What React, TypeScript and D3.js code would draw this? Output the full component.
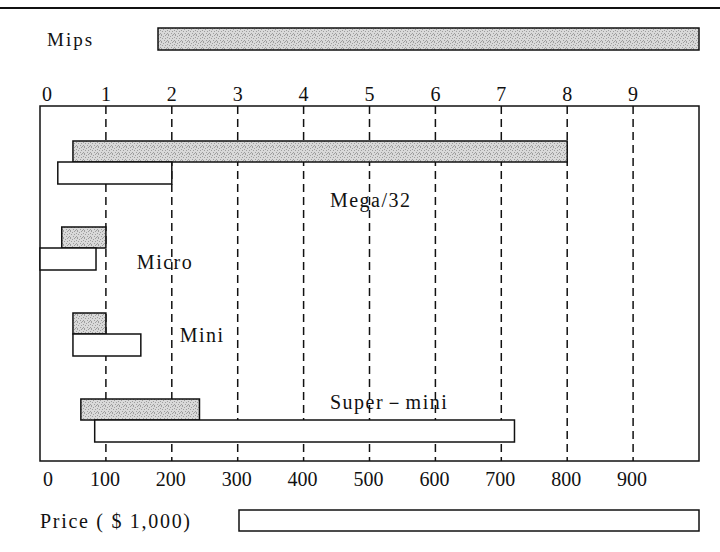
import { useEffect, useRef } from 'react';
import * as d3 from 'd3';

// Computer classes, with Mips range and price range ($1,000)
const categories = ['Mega/32', 'Micro', 'Mini', 'Super－mini'];
const mipsLow = [0.5, 0.33, 0.5, 0.62];
const mipsHigh = [8.0, 1.0, 1.0, 2.42];
const priceLow = [27, 0, 50, 83];
const priceHigh = [200, 85, 153, 720];

const mipsTicks = [0, 1, 2, 3, 4, 5, 6, 7, 8, 9];
const priceTicks = [0, 100, 200, 300, 400, 500, 600, 700, 800, 900];

const FONT = "'Liberation Serif', 'DejaVu Serif', serif";

export default function App() {
  const svgRef = useRef<SVGSVGElement>(null);

  useEffect(() => {
    if (!svgRef.current) return;
    const width = 720;
    const height = 552;
    const svg = d3.select(svgRef.current);
    svg.selectAll('*').remove();
    svg.attr('width', width).attr('height', height);

    const frame = { left: 40, right: 699, top: 106, bottom: 461 };

    // both axes share one span: 1 Mips == 100 ($1,000)
    const xMips = d3.scaleLinear().domain([0, 10]).range([frame.left, frame.right]);
    const xPrice = d3.scaleLinear().domain([0, 1000]).range([frame.left, frame.right]);
    const y = d3.scalePoint<string>().domain(categories).range([162, 420]);
    const barH = 21;

    // stipple texture for the Mips bars (irregular dots, not a hatch)
    const defs = svg.append('defs');
    const pat = defs
      .append('pattern')
      .attr('id', 'stipple')
      .attr('width', 7)
      .attr('height', 7)
      .attr('patternUnits', 'userSpaceOnUse');
    pat.append('rect').attr('width', 7).attr('height', 7).attr('fill', '#d9d9d9');
    [[0, 0], [4, 0], [2, 1], [6, 2], [1, 3], [4, 3], [3, 5], [6, 5], [0, 6], [5, 6]].forEach(([px, py]) => {
      pat.append('rect').attr('x', px).attr('y', py).attr('width', 1).attr('height', 1).attr('fill', '#9e9e9e');
    });

    // rule across the top
    svg.append('line')
      .attr('x1', 0).attr('x2', width)
      .attr('y1', 8).attr('y2', 8)
      .attr('stroke', '#111').attr('stroke-width', 2);

    // --- Legend: Mips ---
    svg.append('text')
      .attr('x', 47).attr('y', 39)
      .attr('dominant-baseline', 'central')
      .attr('font-family', FONT).attr('font-size', 19)
      .attr('letter-spacing', 2)
      .attr('fill', '#111')
      .text('Mips');
    svg.append('rect')
      .attr('x', 158).attr('y', 28)
      .attr('width', frame.right - 158).attr('height', 22)
      .attr('fill', 'url(#stipple)')
      .attr('stroke', '#111').attr('stroke-width', 1.5);

    // --- Grid lines ---
    svg.selectAll('.grid')
      .data(mipsTicks.filter((d) => d > 0))
      .enter()
      .append('line')
      .attr('x1', (d) => xMips(d)).attr('x2', (d) => xMips(d))
      .attr('y1', frame.top).attr('y2', frame.bottom)
      .attr('stroke', '#111')
      .attr('stroke-width', 1.5)
      .attr('stroke-dasharray', '8,5');

    // --- Frame ---
    svg.append('rect')
      .attr('x', frame.left).attr('y', frame.top)
      .attr('width', frame.right - frame.left).attr('height', frame.bottom - frame.top)
      .attr('fill', 'none')
      .attr('stroke', '#111').attr('stroke-width', 1.5);

    // Top tick labels (Mips)
    svg.selectAll('.mips-label')
      .data(mipsTicks)
      .enter()
      .append('text')
      .attr('x', (d) => xMips(d) + (d === 0 ? 7 : 0))
      .attr('y', 94)
      .attr('text-anchor', 'middle')
      .attr('dominant-baseline', 'central')
      .attr('font-family', FONT).attr('font-size', 20)
      .attr('fill', '#111')
      .text((d) => String(d));

    // Bottom tick labels (price)
    svg.selectAll('.price-label')
      .data(priceTicks)
      .enter()
      .append('text')
      .attr('x', (d) => xPrice(d) + (d === 0 ? 8 : -1))
      .attr('y', 479)
      .attr('text-anchor', 'middle')
      .attr('dominant-baseline', 'central')
      .attr('font-family', FONT).attr('font-size', 20)
      .attr('fill', '#111')
      .text((d) => String(d));

    // --- Bars ---
    categories.forEach((c, i) => {
      const yc = y(c) ?? 0;
      // Mips (stippled), above the row line
      svg.append('rect')
        .attr('x', xMips(mipsLow[i]))
        .attr('y', yc - barH)
        .attr('width', xMips(mipsHigh[i]) - xMips(mipsLow[i]))
        .attr('height', barH)
        .attr('fill', 'url(#stipple)')
        .attr('stroke', '#111').attr('stroke-width', 1.5);
      // Price (white), below the row line
      svg.append('rect')
        .attr('x', xPrice(priceLow[i]))
        .attr('y', yc)
        .attr('width', xPrice(priceHigh[i]) - xPrice(priceLow[i]))
        .attr('height', barH + 1)
        .attr('fill', '#fff')
        .attr('stroke', '#111').attr('stroke-width', 1.5);
    });

    // Category labels, placed by hand next to each pair of bars
    const labelAt: Record<string, [number, number]> = {
      'Mega/32': [4.4, 38],
      Micro: [1.47, 14],
      Mini: [2.12, 1],
      'Super－mini': [4.4, -18],
    };
    categories.forEach((c) => {
      const [mx, dy] = labelAt[c];
      svg.append('text')
        .attr('x', xMips(mx))
        .attr('y', (y(c) ?? 0) + dy)
        .attr('dominant-baseline', 'central')
        .attr('font-family', FONT).attr('font-size', 20)
        .attr('letter-spacing', 1.5)
        .attr('fill', '#111')
        .text(c);
    });

    // --- Legend: Price ---
    svg.append('text')
      .attr('x', 40).attr('y', 521)
      .attr('dominant-baseline', 'central')
      .attr('font-family', FONT).attr('font-size', 20)
      .attr('textLength', 150)
      .attr('lengthAdjust', 'spacing')
      .attr('fill', '#111')
      .text('Price ( $ 1,000)');
    svg.append('rect')
      .attr('x', 239).attr('y', 510)
      .attr('width', frame.right - 239).attr('height', 21)
      .attr('fill', '#fff')
      .attr('stroke', '#111').attr('stroke-width', 1.5);
  }, []);

  return (
    <svg
      ref={svgRef}
      style={{ position: 'absolute', left: 0, top: 0, background: '#fff' }}
    />
  );
}
